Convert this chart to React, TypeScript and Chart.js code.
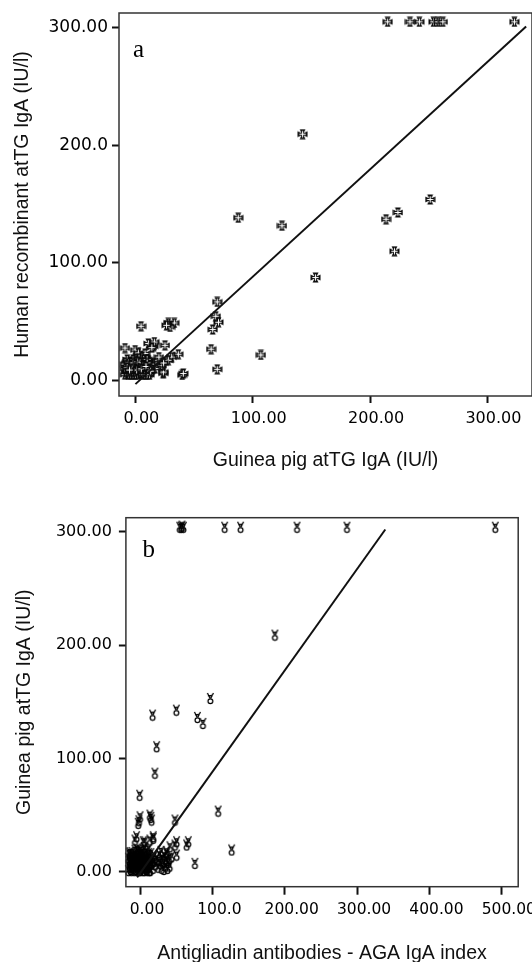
import React, { useEffect, useRef } from "react";
import { Chart, registerables } from "chart.js";

Chart.register(...registerables);

// ---------- Panel a ----------
const aXTitle = "Guinea pig atTG IgA (IU/l)";
const aYTitle = "Human recombinant atTG IgA (IU/l)";
const aXTicks = [0, 100, 200, 300];
const aXTickLabels = ["0.00", "100.00", "200.00", "300.00"];
const aYTicks = [0, 100, 200, 300];
const aYTickLabels = ["0.00", "100.00", "200.0", "300.00"];

const aGuineaPig = [
  215, 234, 242, 254, 258, 262, 323,
  142.5, 87.6, 124.9, 251.2, 223.7, 213.6, 220.8, 153.5,
  69.7, 68.5, 70.8, 65.9, 64.5, 69.7, 106.9, 39.9, 23.7,
  4.8, 28, 33.1, 29.5, 26.5,
  -8.9, -0.3, 2.5, 11, 15.3, 16.1, 14, 25.2, 36.5, 30.9, 23.8, 40.8,
  8.2, 5.4, 19.5, 11, 28, 22.4, 16.7, 20, 24,
  -8, -8, -8, -8, -7, -6, -6, -5, -5, -4, -4, -3, -3, -2, -2, -1, -1, 0, 0, 1,
  1, 2, 2, 3, 3, 4, 4, 5, 5, 6, 6, 7, 7, 8, 8, 9, 9, 10, 10, 11,
  11, 12, 12, 13, 13, -7, -2, 3, 7, 10,
  -9, -9, -9, -6, -6, -4, -4, -2, -2, 0, 0, 2, 2, 4, 4, 6, 6, 8, 8, 10,
  10, 12, 12, -7, -3, 1, 5, 9, 13, -5,
];
const aHumanRec = [
  305, 305, 305, 305, 305, 305, 305,
  209.5, 138.4, 131.6, 154, 142.9, 137.2, 110, 87.6,
  66.9, 54.7, 49.6, 43.4, 26.7, 9.6, 21.8, 4.8, 6.2,
  46.2, 49, 49, 45.6, 47,
  27.7, 26, 23.5, 31.5, 29.2, 32.8, 28, 30, 22.4, 20, 7.3, 6,
  23, 20, 17.3, 17.3, 17.3, 13, 10.2, 20, 15,
  6, 9, 12, 15, 7, 10, 13, 6, 16, 8, 11, 14, 6, 9, 12, 7, 15, 10, 13, 6,
  8, 11, 14, 7, 16, 9, 12, 6, 14, 8, 11, 13, 6, 9, 15, 7, 11, 13, 6, 9,
  16, 7, 12, 10, 14, 18, 18, 19, 18, 18,
  5, 10, 14, 5, 15, 5, 13, 5, 15, 5, 8, 5, 16, 6, 15, 5, 13, 5, 12, 5,
  15, 5, 10, 11, 10, 9, 10, 12, 8, 9,
];
const aFitX = [0, 333];
const aFitY = [-3, 301];

// ---------- Panel b ----------
const bXTitle = "Antigliadin antibodies - AGA IgA index";
const bYTitle = "Guinea pig atTG IgA (IU/l)";
const bXTicks = [0, 100, 200, 300, 400, 500];
const bXTickLabels = ["0.00", "100.0", "200.00", "300.00", "400.00", "500.00"];
const bYTicks = [0, 100, 200, 300];
const bYTickLabels = ["0.00", "100.00", "200.00", "300.00"];

const bAGA = [
  55, 57, 58, 60, 117, 139, 217, 286, 491,
  186.4, 97.2, 50.2, 17.4, 79.3, 86.9, 23, 20.6, -0.5, 108, 0, -2.5, -1.5, 13.7, 16, 15,
  48.3, 66.7, 64.5, 50.6, 126.7, 75.9, 50.6, 41.4, 36.8, 43.7, -7, 4.4, 13.7, 18.3, -4.7, 6.8, 18.3, 48.3,
  25, 26, 27, 28, 30, 31, 32, 33, 34, 35, 36, 38, 39, 40, 41, 29, 37,
  -15, -15, -14, -13, -13, -12, -11, -11, -10, -9, -9, -8, -7, -7, -6, -6, -5, -4, -4, -3,
  -3, -2, -2, -1, -1, 0, 0, 1, 1, 2, 2, 3, 3, 4, 4, 5, 5, 6, 6, 7,
  7, 8, 8, 9, 10, 10, 11, 12, 12, 13, 14, 15, 16, 17, 18, 19, 20, 21, 22,
  -16, -16, -14, -14, -12, -12, -10, -10, -8, -8, -6, -6, -4, -4, -2, -2, 0, 0, 2, 2,
  4, 4, 6, 6, 8, 8, 10, 10, 12, 12, 14, 14, -15, -11, -7, -3, 1, 5, 9, 13,
];
const bGuineaPig = [
  304, 304, 305, 304, 304, 304, 304, 304, 304,
  208.8, 152.9, 142.6, 138.2, 136.2, 130.9, 110.3, 87, 67.5, 53.5, 48.5, 42.7, 45, 50, 45.6, 48,
  45.6, 26.5, 23.6, 26.5, 19.2, 7.4, 14.7, 22, 17.6, 13.2, 28, 26.5, 28, 29.5, 30.9, 26.5, 30.9, 23.6,
  4, 10, 15, 7, 3, 12, 8, 2, 14, 5, 10, 3, 8, 12, 5, 18, 16,
  4, 9, 14, 2, 7, 12, 5, 17, 9, 3, 14, 7, 11, 19, 2, 15, 6, 10, 20, 3,
  13, 7, 17, 1, 11, 5, 15, 9, 19, 3, 13, 7, 17, 1, 11, 5, 15, 9, 21, 3,
  13, 7, 17, 11, 4, 15, 8, 12, 20, 5, 10, 16, 7, 12, 3, 9, 14, 6, 11,
  1, 12, 6, 17, 1, 10, 4, 14, 1, 10, 5, 12, 1, 8, 4, 14, 1, 9, 6, 16,
  5, 14, 1, 12, 4, 11, 1, 9, 4, 16, 1, 8, 16, 11, 15, 19, 14, 10, 2, 1,
];
const bFitX = [-4, 339];
const bFitY = [-5, 302];

// ---------- marker glyphs ----------
function crossMarker(): HTMLCanvasElement {
  const c = document.createElement("canvas");
  c.width = 11;
  c.height = 11;
  const g = c.getContext("2d")!;
  const m = 5.5, r = 5, w = 3, n = 0.9;
  g.beginPath();
  g.moveTo(m - w, m - r);
  g.lineTo(m + w, m - r);
  g.lineTo(m + n, m - n);
  g.lineTo(m + r, m - w);
  g.lineTo(m + r, m + w);
  g.lineTo(m + n, m + n);
  g.lineTo(m + w, m + r);
  g.lineTo(m - w, m + r);
  g.lineTo(m - n, m + n);
  g.lineTo(m - r, m + w);
  g.lineTo(m - r, m - w);
  g.lineTo(m - n, m - n);
  g.closePath();
  g.fillStyle = "#0a0a0a";
  g.fill();
  g.strokeStyle = "#ffffff";
  g.lineWidth = 1;
  g.beginPath();
  g.moveTo(m, m - 3.2);
  g.lineTo(m, m + 3.2);
  g.moveTo(m - 3.2, m);
  g.lineTo(m + 3.2, m);
  g.stroke();
  return c;
}

function figureMarker(): HTMLCanvasElement {
  const c = document.createElement("canvas");
  c.width = 9;
  c.height = 13;
  const g = c.getContext("2d")!;
  g.strokeStyle = "#000";
  g.lineWidth = 1.25;
  g.beginPath();
  g.arc(4.5, 9.3, 2.4, 0, Math.PI * 2);
  g.stroke();
  g.beginPath();
  g.moveTo(1.5, 1);
  g.lineTo(4.2, 6.6);
  g.moveTo(7.5, 1);
  g.lineTo(4.8, 6.6);
  g.moveTo(2.2, 4);
  g.lineTo(6.8, 3.2);
  g.stroke();
  return c;
}

// ---------- plugins ----------
const framePlugin = {
  id: "frame",
  afterDatasetsDraw(chart: any) {
    const { left, top, right, bottom } = chart.chartArea;
    const ctx = chart.ctx;
    ctx.save();
    ctx.strokeStyle = "#333";
    ctx.lineWidth = 1.5;
    ctx.strokeRect(left, top, right - left, bottom - top);
    ctx.restore();
  },
};

const panelLabelPlugin = {
  id: "panelLabel",
  afterDraw(chart: any, _args: any, opts: any) {
    const { left, top } = chart.chartArea;
    const ctx = chart.ctx;
    ctx.save();
    ctx.fillStyle = "#000";
    ctx.font = "25px 'Liberation Serif'";
    ctx.textBaseline = "alphabetic";
    ctx.textAlign = "left";
    ctx.fillText(opts.text, left + opts.dx, top + opts.dy);
    ctx.restore();
  },
};

function labelFrom(values: number[], labels: string[]) {
  return (v: any) => {
    const i = values.indexOf(Number(v));
    return i >= 0 ? labels[i] : "";
  };
}

function makeConfig(p: any) {
  const tickFontFamily = "'DejaVu Sans'";
  const titleFontFamily = "'Liberation Sans'";
  return {
    type: "scatter",
    data: {
      datasets: [
        {
          data: p.xs.map((x: number, i: number) => ({ x, y: p.ys[i] })),
          pointStyle: p.marker,
          pointRadius: 5,
          showLine: false,
          clip: false,
          order: 2,
        },
        {
          data: p.fitX.map((x: number, i: number) => ({ x, y: p.fitY[i] })),
          showLine: true,
          borderColor: "#111",
          borderWidth: 2,
          pointRadius: 0,
          fill: false,
          clip: false,
          order: 1,
        },
      ],
    },
    options: {
      responsive: false,
      animation: false,
      events: [],
      layout: { padding: p.padding, autoPadding: false },
      plugins: {
        legend: { display: false },
        tooltip: { enabled: false },
        panelLabel: p.panel,
      },
      scales: {
        x: {
          type: "linear",
          min: p.xMin,
          max: p.xMax,
          afterBuildTicks: (s: any) => {
            s.ticks = p.xTicks.map((v: number) => ({ value: v }));
          },
          afterFit: (s: any) => {
            s.height = p.xHeight;
            s.paddingLeft = 0;
            s.paddingRight = 0;
          },
          grid: {
            drawOnChartArea: false,
            drawTicks: true,
            tickLength: p.xTickLen,
            tickWidth: 2,
            tickColor: "#111",
          },
          border: { display: false },
          ticks: {
            callback: labelFrom(p.xTicks, p.xTickLabels),
            font: { family: tickFontFamily, size: p.xTickSize },
            color: "#000",
            padding: p.xTickPad,
            labelOffset: p.xLabelOffset,
            maxRotation: 0,
            autoSkip: false,
          },
          title: {
            display: true,
            text: p.xTitle,
            font: { family: titleFontFamily, size: 19.5, lineHeight: p.xTitleLH },
            color: "#111",
            padding: { top: 0, bottom: p.xTitlePad },
          },
        },
        y: {
          type: "linear",
          min: p.yMin,
          max: p.yMax,
          afterBuildTicks: (s: any) => {
            s.ticks = p.yTicks.map((v: number) => ({ value: v }));
          },
          afterFit: (s: any) => {
            s.width = p.yWidth;
            s.paddingTop = 0;
            s.paddingBottom = 0;
          },
          grid: {
            drawOnChartArea: false,
            drawTicks: true,
            tickLength: 7,
            tickWidth: 2,
            tickColor: "#111",
          },
          border: { display: false },
          ticks: {
            callback: labelFrom(p.yTicks, p.yTickLabels),
            font: { family: tickFontFamily, size: p.yTickSize },
            color: "#000",
            padding: p.yTickPad,
            autoSkip: false,
          },
          title: {
            display: true,
            text: p.yTitle,
            font: { family: titleFontFamily, size: 19.5 },
            color: "#111",
            padding: { top: p.yTitlePad, bottom: 0 },
          },
        },
      },
    },
    plugins: [framePlugin, panelLabelPlugin],
  };
}

export default function App() {
  const refA = useRef<HTMLCanvasElement>(null);
  const refB = useRef<HTMLCanvasElement>(null);

  useEffect(() => {
    const chartA = new Chart(
      refA.current!,
      makeConfig({
        xs: aGuineaPig,
        ys: aHumanRec,
        fitX: aFitX,
        fitY: aFitY,
        marker: crossMarker(),
        padding: { top: 13, left: 0, right: 0, bottom: 0 },
        panel: { text: "a", dx: 14, dy: 44 },
        xMin: -14,
        xMax: 338,
        xTicks: aXTicks,
        xTickLabels: aXTickLabels,
        xHeight: 85,
        xTickLen: 7,
        xTickSize: 16,
        xTickPad: 6,
        xLabelOffset: 6,
        xTitle: aXTitle,
        xTitleLH: 1.2,
        xTitlePad: 9,
        yMin: -13.1,
        yMax: 312.5,
        yTicks: aYTicks,
        yTickLabels: aYTickLabels,
        yWidth: 119,
        yTickSize: 17,
        yTickPad: 4,
        yTitle: aYTitle,
        yTitlePad: 11,
      }) as any
    );
    const chartB = new Chart(
      refB.current!,
      makeConfig({
        xs: bAGA,
        ys: bGuineaPig,
        fitX: bFitX,
        fitY: bFitY,
        marker: figureMarker(),
        padding: { top: 36.7, left: 0, right: 13.8, bottom: 0 },
        panel: { text: "b", dx: 16.5, dy: 39 },
        xMin: -19.5,
        xMax: 522.7,
        xTicks: bXTicks,
        xTickLabels: bXTickLabels,
        xHeight: 75.3,
        xTickLen: 8,
        xTickSize: 15.5,
        xTickPad: 6,
        xLabelOffset: 7,
        xTitle: bXTitle,
        xTitleLH: 0.9,
        xTitlePad: 0,
        yMin: -13.2,
        yMax: 312.4,
        yTicks: bYTicks,
        yTickLabels: bYTickLabels,
        yWidth: 125.9,
        yTickSize: 16,
        yTickPad: 7,
        yTitle: bYTitle,
        yTitlePad: 13,
      }) as any
    );
    return () => {
      chartA.destroy();
      chartB.destroy();
    };
  }, []);

  return (
    <div
      style={{
        position: "absolute",
        left: 0,
        top: 0,
        width: 532,
        height: 962,
        overflow: "hidden",
        background: "#fff",
      }}
    >
      <canvas
        ref={refA}
        width={532}
        height={481}
        style={{ position: "absolute", left: 0, top: 0, display: "block" }}
      />
      <canvas
        ref={refB}
        width={532}
        height={481}
        style={{ position: "absolute", left: 0, top: 481, display: "block" }}
      />
    </div>
  );
}
